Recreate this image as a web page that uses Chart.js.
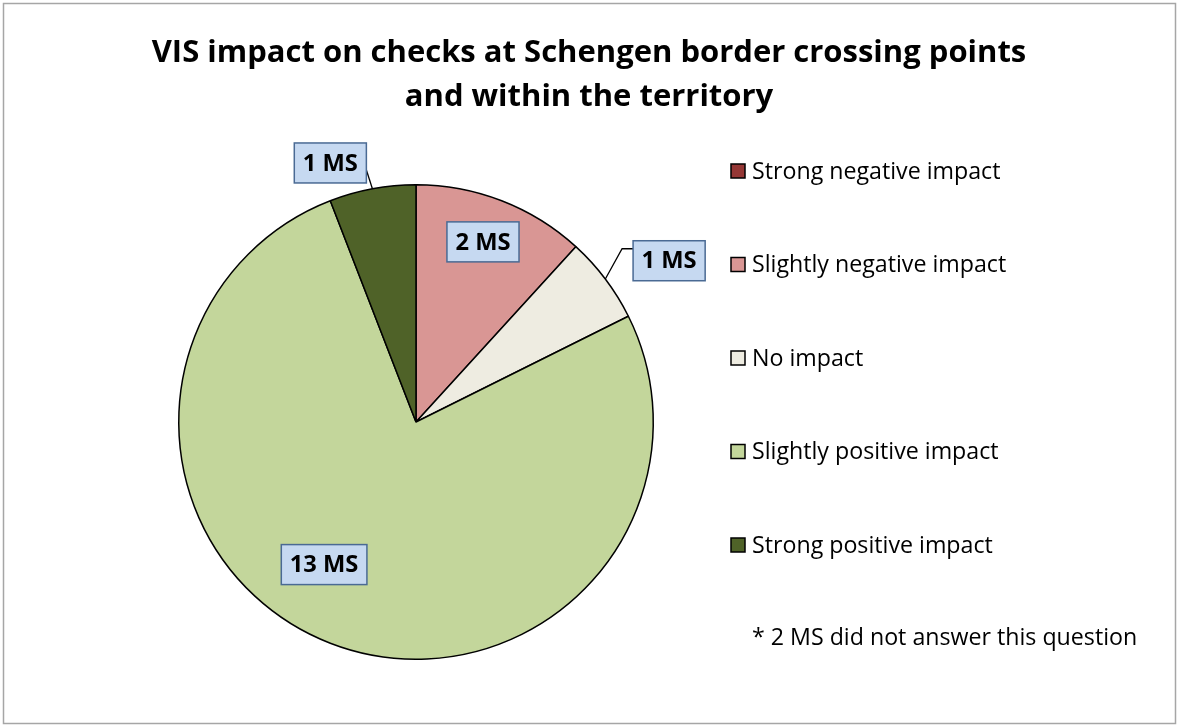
<!DOCTYPE html>
<html>
<head>
<meta charset="utf-8">
<script src="https://cdn.jsdelivr.net/npm/chart.js@4.4.0/dist/chart.umd.min.js"></script>
<style>
  html, body { margin: 0; padding: 0; background: #fff; }
  #wrap { width: 1179px; height: 727px; position: relative; }
</style>
</head>
<body>
<div id="wrap"><canvas id="visChart" width="1179" height="727"></canvas></div>
<script>
// data (number of member states)
const categories = ["Strong negative impact", "Slightly negative impact", "No impact", "Slightly positive impact", "Strong positive impact"];
const memberStates = [0, 2, 1, 13, 1];
const sliceLabels = ["", "2 MS", "1 MS", "13 MS", "1 MS"];
const sliceColors = ["#953735", "#d99694", "#eeece1", "#c3d69b", "#4f6228"];
const titleLines = ["VIS impact on checks at Schengen border crossing points", "and within the territory"];
const footnote = "* 2 MS did not answer this question";

const FONT = "'Open Sans', Lato, sans-serif";

// where each label box sits: angle (deg from top, clockwise), distance as a fraction of the radius
const labelPlace = [
  null,
  { angle: 20.4, dist: 0.81 },
  { angle: 57.5, dist: 1.265, leader: "elbow" },
  { angle: 212.8, dist: 0.715 },
  { angle: 341.7, dist: 1.15, leader: "straight" }
];

// shrink/grow a font so the text spans the width seen in the picture
function fitFont(c, weight, text, width, base) {
  c.font = weight + " " + base + "px " + FONT;
  const size = base * width / c.measureText(text).width;
  return weight + " " + size.toFixed(1) + "px " + FONT;
}

const frame = {
  id: "frame",
  beforeDraw(chart) {
    const c = chart.ctx;
    c.save();
    c.fillStyle = "#fff";
    c.fillRect(0, 0, chart.width, chart.height);
    c.strokeStyle = "#a6a6a6";
    c.lineWidth = 1.5;
    c.strokeRect(3.5, 3.5, chart.width - 7, chart.height - 7);
    c.restore();
  },
  afterDraw(chart) {
    const c = chart.ctx;
    c.save();
    // title
    c.fillStyle = "#000";
    c.textAlign = "center";
    c.textBaseline = "alphabetic";
    c.font = fitFont(c, "bold", titleLines[0], 874, 30);
    c.fillText(titleLines[0], 589, 62);
    c.fillText(titleLines[1], 589, 106);

    // legend
    c.font = fitFont(c, "normal", categories[0], 249, 20);
    c.textAlign = "left";
    c.textBaseline = "middle";
    categories.forEach((name, i) => {
      const y = 171 + i * 93.5;
      c.fillStyle = sliceColors[i];
      c.fillRect(731, y - 7, 14, 14);
      c.strokeStyle = "#000";
      c.lineWidth = 1.5;
      c.strokeRect(731, y - 7, 14, 14);
      c.fillStyle = "#000";
      c.fillText(name, 752, y + 1);
    });
    c.fillText(footnote, 752, 638);

    // slice labels
    const arcs = chart.getDatasetMeta(0).data;
    c.font = fitFont(c, "bold", "2 MS", 55, 20);
    c.textAlign = "center";
    arcs.forEach((arc, i) => {
      const p = labelPlace[i];
      if (!p || !memberStates[i]) return;
      const r = arc.outerRadius;
      const a = p.angle * Math.PI / 180;
      const bx = arc.x + Math.sin(a) * r * p.dist;
      const by = arc.y - Math.cos(a) * r * p.dist;
      const w = c.measureText(sliceLabels[i]).width + 17, h = 40;
      const left = bx - w / 2, top = by - h / 2;
      const mid = (arc.startAngle + arc.endAngle) / 2;
      const ax = arc.x + Math.cos(mid) * r;
      const ay = arc.y + Math.sin(mid) * r;
      c.strokeStyle = "#000";
      c.lineWidth = 1.3;
      if (p.leader === "straight") {
        c.beginPath();
        c.moveTo(ax, ay);
        c.lineTo(left + w, top + 27);
        c.stroke();
      } else if (p.leader === "elbow") {
        c.beginPath();
        c.moveTo(ax, ay);
        c.lineTo(left - 11, top + 8);
        c.lineTo(left, top + 8);
        c.stroke();
      }
      c.fillStyle = "#c6d9f1";
      c.fillRect(left, top, w, h);
      c.strokeStyle = "#4a6a94";
      c.lineWidth = 1.5;
      c.strokeRect(left, top, w, h);
      c.fillStyle = "#000";
      c.fillText(sliceLabels[i], bx, by + 1);
    });
    c.restore();
  }
};

new Chart(document.getElementById("visChart"), {
  type: "pie",
  data: {
    labels: categories,
    datasets: [{
      data: memberStates,
      backgroundColor: sliceColors,
      borderColor: "#000",
      borderWidth: 1.5
    }]
  },
  options: {
    responsive: false,
    animation: false,
    layout: { padding: { left: 178, right: 525, top: 184, bottom: 67 } },
    plugins: {
      legend: { display: false },
      tooltip: { enabled: false }
    }
  },
  plugins: [frame]
});
</script>
</body>
</html>
